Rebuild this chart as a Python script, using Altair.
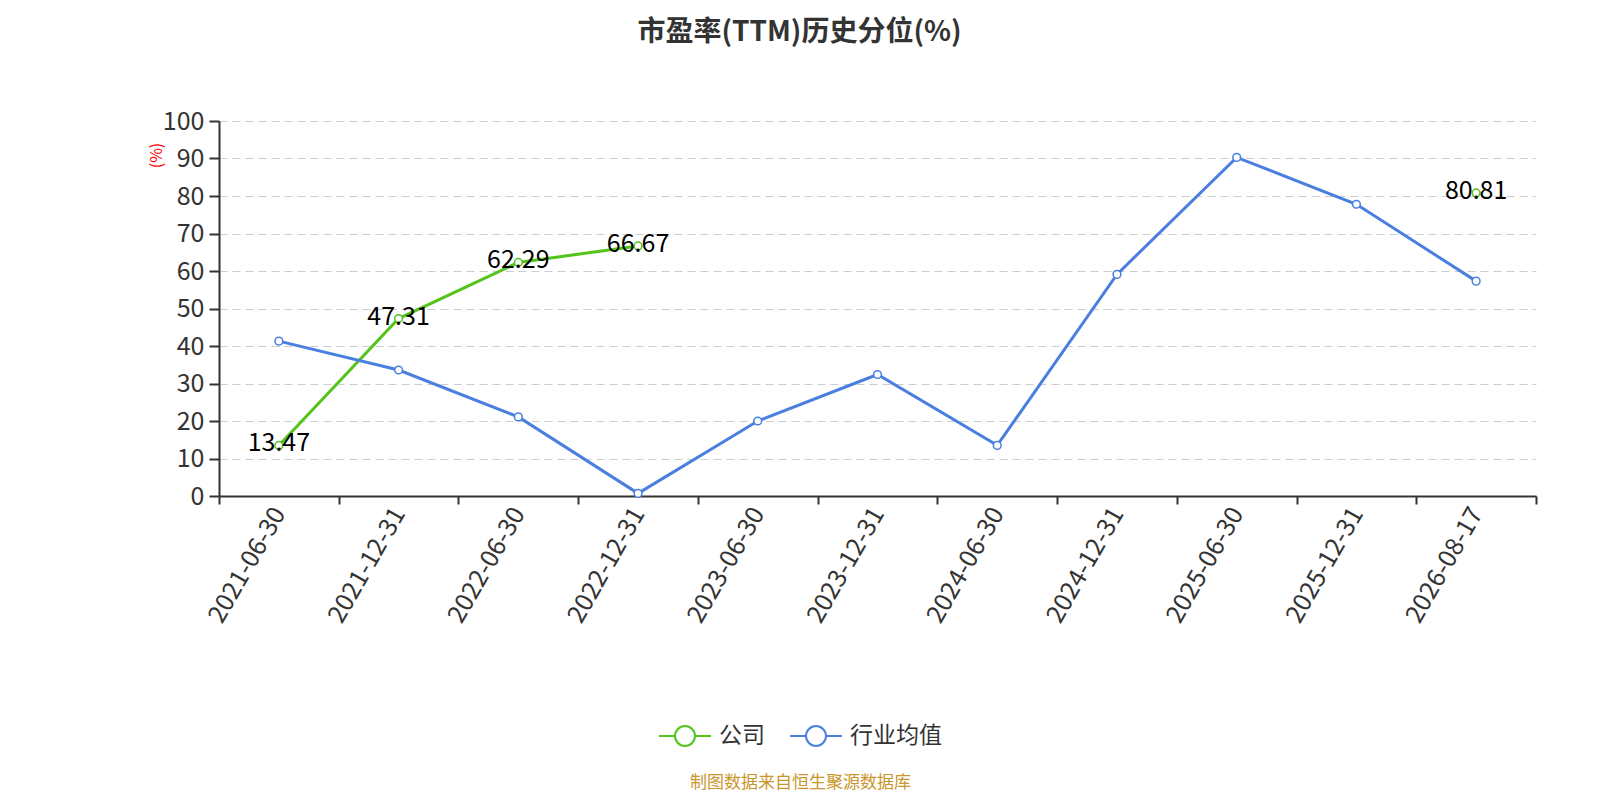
import altair as alt
import pandas as pd

dates = ["2021-06-30", "2021-12-31", "2022-06-30", "2022-12-31", "2023-06-30",
         "2023-12-31", "2024-06-30", "2024-12-31", "2025-06-30", "2025-12-31", "2026-08-17"]
company = [13.47, 47.31, 62.29, 66.67, None, None, None, None, None, None, 80.81]
industry = [41.3, 33.6, 21.1, 0.7, 20.0, 32.4, 13.5, 59.1, 90.3, 77.8, 57.3]
series_names = ["公司", "行业均值"]
colors = ["#52c41a", "#4a7fe0"]

rows = []
for d, c, i in zip(dates, company, industry):
    rows.append({"date": d, "series": series_names[0], "value": c})
    rows.append({"date": d, "series": series_names[1], "value": i})
df = pd.DataFrame(rows)
df["label"] = df["value"].map(lambda v: "" if pd.isna(v) else f"{v:.2f}")

FONT = "Noto Sans CJK SC"

x_enc = alt.X(
    "date:O", sort=dates,
    scale=alt.Scale(type="band", paddingInner=0, paddingOuter=0),
    axis=alt.Axis(
        title="制图数据来自恒生聚源数据库", titleColor="#c9962b", titleFontSize=17,
        titleFontWeight="normal", titleX=581, titleY=286, titleAlign="center",
        titleBaseline="middle", titleFont=FONT,
        labelAngle=-60, labelFontSize=25, labelColor="#333333", labelFont=FONT,
        labelPadding=5, tickBand="extent", tickSize=8, tickColor="#333333",
        tickWidth=2, domainColor="#333333", domainWidth=2, grid=False,
    ),
)
y_enc = alt.Y(
    "value:Q",
    scale=alt.Scale(domain=[0, 100], nice=False),
    axis=alt.Axis(
        title="(%)", titleColor="red", titleFontSize=16, titleFontWeight="normal",
        titleFont=FONT, titleX=-63, titleY=34, titleAlign="center", titleBaseline="middle",
        values=list(range(0, 101, 10)), labelFontSize=25, labelColor="#333333",
        labelFont=FONT, labelPadding=5, tickSize=10, tickColor="#333333", tickWidth=2,
        domainColor="#333333", domainWidth=2, grid=True, gridColor="#cccccc",
        gridDash=[8, 5], gridWidth=1.2,
    ),
)

legend_path = ("M-1.04,0L-0.4,0M0.4,0L1.04,0"
               "M-0.4,0A0.4,0.4,0,1,1,0.4,0A0.4,0.4,0,1,1,-0.4,0")
color_enc = alt.Color(
    "series:N", sort=series_names,
    scale=alt.Scale(domain=series_names, range=colors),
    legend=alt.Legend(
        title=None, orient="none", legendX=440, legendY=589, direction="horizontal",
        symbolType=legend_path, symbolSize=2500, symbolStrokeWidth=2,
        symbolFillColor="white", labelFontSize=23, labelColor="#333333", labelFont=FONT,
        columnPadding=21, labelOffset=8,
    ),
)

base = alt.Chart(df).encode(x=x_enc, y=y_enc)

line = base.mark_line(strokeWidth=3).encode(color=color_enc)
pts = base.transform_filter("isValid(datum.value)").mark_point(
    filled=True, fill="white", size=60, strokeWidth=1.5, opacity=1
).encode(stroke=alt.Stroke("series:N", scale=alt.Scale(domain=series_names, range=colors), legend=None))
labels = base.transform_filter(
    "datum.series == '公司' && isValid(datum.value)"
).mark_text(fontSize=25, color="#000000", font=FONT, baseline="middle", dy=-2).encode(
    text="label:N"
)

chart = alt.layer(line, pts, labels).properties(
    width=1317, height=375,
    title=alt.TitleParams(
        "市盈率(TTM)历史分位(%)", fontSize=28, fontWeight="bold", color="#333333",
        font=FONT, anchor="middle", dx=-78, offset=62,
    ),
    autosize=alt.AutoSizeParams(type="none"),
    padding={"left": 211, "top": 113, "right": 56, "bottom": 296},
).configure_view(stroke=None)

chart.save("out.html", embed_options={"renderer": "svg", "actions": False})
